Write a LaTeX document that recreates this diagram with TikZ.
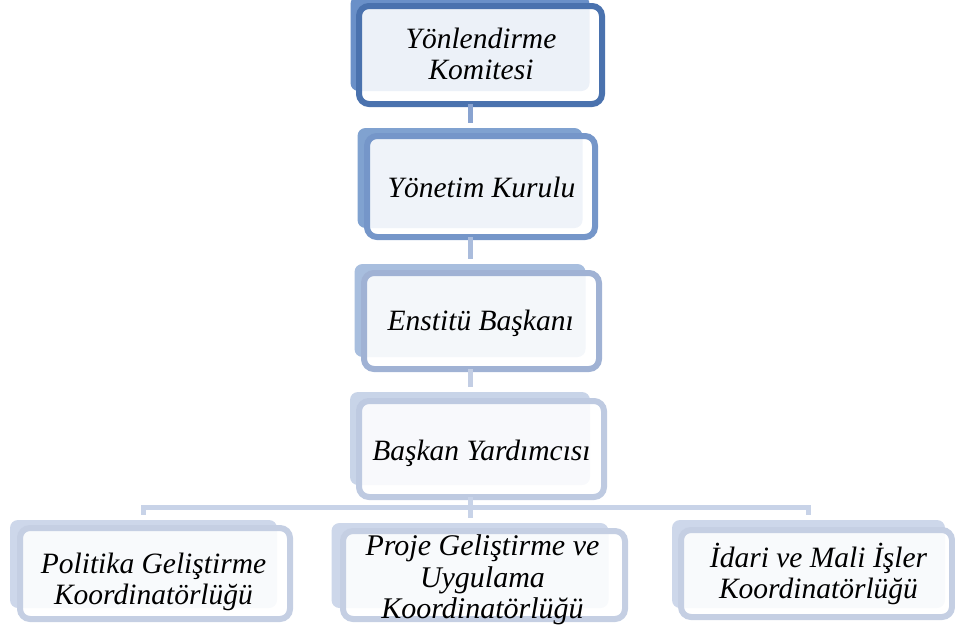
\documentclass[tikz,border=0pt]{standalone}
\usepackage{fontspec}
\setmainfont{Liberation Serif}
\definecolor{cAb}{RGB}{74,114,174}
\definecolor{cAf}{RGB}{106,144,200}
\definecolor{cBb}{RGB}{117,150,201}
\definecolor{cBf}{RGB}{128,162,208}
\definecolor{cCb}{RGB}{160,178,212}
\definecolor{cCf}{RGB}{168,190,222}
\definecolor{cDb}{RGB}{190,202,225}
\definecolor{cDf}{RGB}{200,212,232}
\definecolor{cEb}{RGB}{197,207,227}
\definecolor{cEf}{RGB}{205,215,234}
\definecolor{kA}{RGB}{137,163,208}
\definecolor{kB}{RGB}{170,188,220}
\definecolor{kC}{RGB}{195,206,228}
\definecolor{kD}{RGB}{200,211,232}
\tikzset{
  backbox/.style={rectangle, rounded corners=8pt, inner sep=0pt, outer sep=0pt, draw=none},
  frontbox/.style={rectangle, rounded corners=10pt, inner sep=0pt, outer sep=0pt, line width=6pt, fill=white, fill opacity=0.88, draw opacity=1},
  txt/.style={align=center, inner sep=0pt, font=\itshape\fontsize{29.5}{31}\selectfont, text=black},
  conn/.style={line width=5pt}
}
\begin{document}
\begin{tikzpicture}[x=1pt,y=-1pt]
\useasboundingbox (0,0) rectangle (955,629);
\clip (0,0) rectangle (955,629);
% back rectangles
\node[backbox, fill=cAf, minimum width=239pt, minimum height=95pt] (b1) at (470,43.5) {};
\node[backbox, fill=cBf, minimum width=225pt, minimum height=100pt] (b2) at (470,178) {};
\node[backbox, fill=cCf, minimum width=231pt, minimum height=93pt] (b3) at (470,310.5) {};
\node[backbox, fill=cDf, minimum width=240pt, minimum height=93pt] (b4) at (470,438.5) {};
\node[backbox, fill=cEf, minimum width=267pt, minimum height=88pt] (b5) at (143.5,564) {};
\node[backbox, fill=cEf, minimum width=277pt, minimum height=85pt] (b6) at (470,565.5) {};
\node[backbox, fill=cEf, minimum width=273pt, minimum height=88pt] (b7) at (808.5,564) {};
% front boxes
\node[frontbox, draw=cAb, minimum width=243pt, minimum height=98pt] (f1) at (480.5,55) {};
\node[frontbox, draw=cBb, minimum width=228pt, minimum height=101pt] (f2) at (481,186.5) {};
\node[frontbox, draw=cCb, minimum width=235pt, minimum height=96pt] (f3) at (481.5,321) {};
\node[frontbox, draw=cDb, minimum width=245pt, minimum height=96pt] (f4) at (481.5,449) {};
\node[frontbox, draw=cEb, minimum width=270pt, minimum height=91pt] (f5) at (155,573.5) {};
\node[frontbox, draw=cEb, minimum width=282pt, minimum height=88pt] (f6) at (484,575) {};
\node[frontbox, draw=cEb, minimum width=271pt, minimum height=87pt] (f7) at (816.5,573.5) {};
% connectors
\draw[conn, kA] (b1 |- f1.south) -- ([yshift=5.5pt]b2.north);
\draw[conn, kB] (b2 |- f2.south) -- ([yshift=5.5pt]b3.north);
\draw[conn, kC] (b3 |- f3.south) -- ([yshift=5.5pt]b4.north);
\coordinate (bar) at (470,507.5);
\draw[conn, kD] ([yshift=5.5pt]b5.north) |- (bar) -| ([yshift=5.5pt]b7.north);
\draw[conn, kD] (b4 |- f4.south) -- ([yshift=5.5pt]b6.north);
% texts
\node[txt] (t1) at (481,54) {Yönlendirme\\Komitesi};
\node[txt, anchor=base] (t2) at (481.5,197) {Yönetim Kurulu};
\node[txt, anchor=base] (t3) at (480.7,330) {Enstitü Başkanı};
\node[txt, anchor=base] (t4) at (481.5,460) {Başkan Yardımcısı};
\node[txt] (t5) at (153.5,582) {Politika Geliştirme\\Koordinatörlüğü};
\node[txt, font=\itshape\fontsize{30}{31.5}\selectfont] (t6) at (482.5,580) {Proje Geliştirme ve\\Uygulama\\Koordinatörlüğü};
\node[txt] (t7) at (818.5,574) {İdari ve Mali İşler\\Koordinatörlüğü};
\end{tikzpicture}
\end{document}
